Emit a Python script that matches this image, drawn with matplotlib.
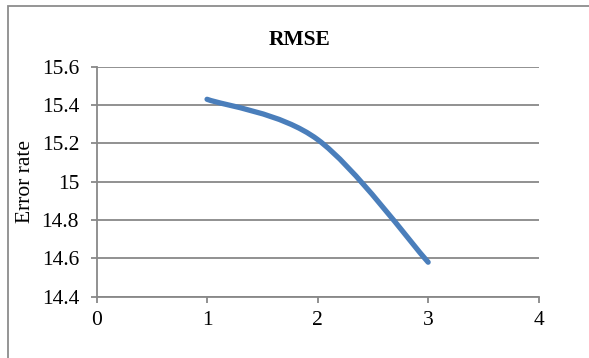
import matplotlib
matplotlib.use("Agg")
import matplotlib.pyplot as plt
from matplotlib.path import Path
from matplotlib.patches import PathPatch, Rectangle

x_vals = [1, 2, 3]
rmse = [15.43, 15.22, 14.58]
x_ticks = [0, 1, 2, 3, 4]
y_ticks = [14.4, 14.6, 14.8, 15.0, 15.2, 15.4, 15.6]
y_tick_labels = ["14.4", "14.6", "14.8", "15", "15.2", "15.4", "15.6"]
title = "RMSE"
ylabel = "Error rate"

plt.rcParams['font.family'] = ['Liberation Serif', 'DejaVu Serif']

W, H = 589, 358
fig = plt.figure(figsize=(W / 100, H / 100), dpi=100)
fig.patch.set_facecolor('white')

# outer chart border (extends past the right/bottom edge as in the reference)
fig.patches.append(Rectangle((8 / W, -0.1), 1.2, (H - 6) / H + 0.1,
                             transform=fig.transFigure, fill=False,
                             edgecolor='#8c8c8c', linewidth=1.3))

left, right = 96.5 / W, 538.7 / W
bottom, top = (H - 296.7) / H, (H - 66.7) / H
ax = fig.add_axes([left, bottom, right - left, top - bottom])
ax.set_xlim(0, 4)
ax.set_ylim(14.4, 15.6)
ax.set_xticks(x_ticks)
ax.set_xticklabels([str(t) for t in x_ticks])
ax.set_yticks(y_ticks)
ax.set_yticklabels(y_tick_labels)

gray = '#888888'
for s in ['top', 'right']:
    ax.spines[s].set_visible(False)
for s in ['left', 'bottom']:
    ax.spines[s].set_color(gray)
    ax.spines[s].set_linewidth(1.3)
ax.grid(axis='y', color=gray, linewidth=1.3)
ax.set_axisbelow(True)
ax.tick_params(axis='both', colors=gray, length=4.5, width=1.3,
               labelsize=15.5, labelcolor='black')
ax.tick_params(axis='y', pad=8)
ax.tick_params(axis='x', pad=5.5)

# smooth (Catmull-Rom style Bezier) line through the data points
pts = list(zip(x_vals, rmse))
verts = [pts[0]]
codes = [Path.MOVETO]
n = len(pts)
for i in range(n - 1):
    p0 = pts[i - 1] if i > 0 else pts[i]
    p1 = pts[i]
    p2 = pts[i + 1]
    p3 = pts[i + 2] if i + 2 < n else pts[i + 1]
    c1 = (p1[0] + (p2[0] - p0[0]) / 6, p1[1] + (p2[1] - p0[1]) / 6)
    c2 = (p2[0] - (p3[0] - p1[0]) / 6, p2[1] - (p3[1] - p1[1]) / 6)
    verts += [c1, c2, p2]
    codes += [Path.CURVE4] * 3
patch = PathPatch(Path(verts, codes), facecolor='none', edgecolor='#4A7EBB',
                  linewidth=3.8, capstyle='round', joinstyle='round', zorder=3)
patch.set_clip_on(False)
ax.add_patch(patch)

fig.text(300 / W, 1 - 40 / H, title, ha='center', va='center',
         fontsize=15.5, fontweight='bold')
fig.text(26 / W, 1 - 181 / H, ylabel, ha='center', va='center',
         rotation=90, fontsize=15.5)

fig.savefig('out.png', dpi=100)
